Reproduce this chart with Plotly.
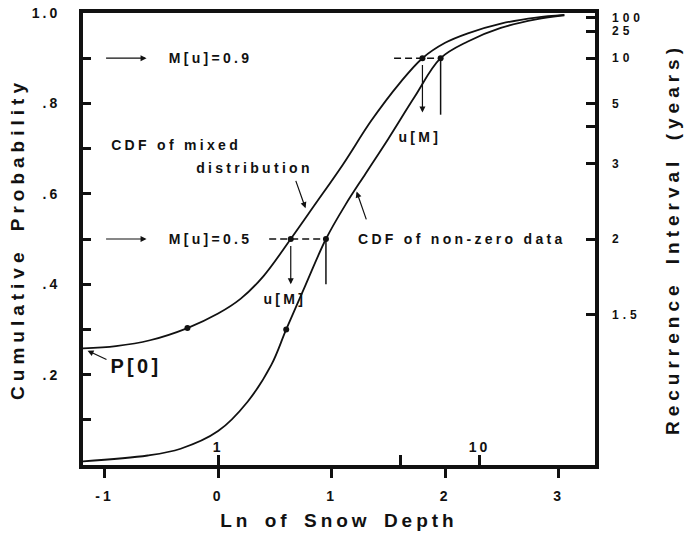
import numpy as np
import plotly.graph_objects as go

# ---- data ----
ln_mixed = [-1.19, -0.90, -0.60, -0.27, 0.00, 0.20, 0.40, 0.64, 0.85, 1.10, 1.35, 1.60, 1.80, 2.00, 2.20, 2.50, 2.80, 3.05]
p_mixed = [0.258, 0.263, 0.276, 0.303, 0.335, 0.368, 0.418, 0.500, 0.575, 0.665, 0.762, 0.845, 0.900, 0.934, 0.955, 0.977, 0.990, 0.996]

ln_nonzero = [-1.19, -0.62, -0.33, 0.0, 0.26, 0.47, 0.60, 0.77, 0.95, 1.12, 1.30, 1.50, 1.73, 1.96, 2.20, 2.49, 2.80, 3.05]
p_nonzero = [0.008, 0.021, 0.036, 0.075, 0.140, 0.222, 0.300, 0.398, 0.500, 0.575, 0.645, 0.722, 0.814, 0.900, 0.937, 0.967, 0.986, 0.995]

dot_ln_mixed = [-0.27, 0.64, 1.80]
dot_p_mixed = [0.303, 0.500, 0.900]
dot_ln_nonzero = [0.60, 0.95, 1.96]
dot_p_nonzero = [0.300, 0.500, 0.900]

m_levels = [0.5, 0.9]
m_labels = ["M[u]=0.5", "M[u]=0.9"]
u_mixed = [0.64, 1.80]
u_nonzero = [0.95, 1.96]
dash_start = [0.45, 1.55]
drop_to_mixed = [0.40, 0.78]
drop_to_nonzero = [0.40, 0.775]
p_zero = 0.258

x_ticks = [-1, 0, 1, 2, 3]
x_ticktext = ["-1", "0", "1", "2", "3"]
y_ticks = [0.1, 0.2, 0.3, 0.4, 0.5, 0.6, 0.7, 0.8, 0.9, 1.0]
y_ticktext = ["", ".2", "", ".4", "", ".6", "", ".8", "", "1.0"]
recurrence = [1.5, 2, 3, 4, 5, 10, 25, 100]
recurrence_text = ["1.5", "2", "3", "", "5", "10", "25", "100"]
depth_ticks = [1, 5, 10]
depth_text = ["1", "", "10"]

FONT = "Liberation Sans"
BLACK = "#111111"

fig = go.Figure()

fig.add_trace(go.Scatter(x=ln_mixed, y=p_mixed, mode="lines",
                         line=dict(color=BLACK, width=1.8, shape="spline", smoothing=1.0),
                         showlegend=False, hoverinfo="skip"))
fig.add_trace(go.Scatter(x=ln_nonzero, y=p_nonzero, mode="lines",
                         line=dict(color=BLACK, width=1.8, shape="spline", smoothing=1.0),
                         showlegend=False, hoverinfo="skip"))

# dashed guide lines at the M[u] levels
for lvl, x0, x1 in zip(m_levels, dash_start, u_nonzero):
    fig.add_trace(go.Scatter(x=[x0, x1], y=[lvl, lvl], mode="lines",
                             line=dict(color=BLACK, width=1.5, dash="7px,4px"),
                             showlegend=False, hoverinfo="skip"))

# vertical lines from non-zero dots
for u, lvl, y1 in zip(u_nonzero, m_levels, drop_to_nonzero):
    fig.add_trace(go.Scatter(x=[u, u], y=[lvl, y1], mode="lines",
                             line=dict(color=BLACK, width=1.5),
                             showlegend=False, hoverinfo="skip"))

# dots
fig.add_trace(go.Scatter(x=dot_ln_mixed + dot_ln_nonzero, y=dot_p_mixed + dot_p_nonzero,
                         mode="markers", marker=dict(color=BLACK, size=6),
                         showlegend=False, hoverinfo="skip"))

# secondary axes: recurrence interval (right) and depth (inner bottom)
fig.add_trace(go.Scatter(x=[None], y=[None], yaxis="y2", showlegend=False, hoverinfo="skip"))
fig.add_trace(go.Scatter(x=[None], y=[None], xaxis="x2", showlegend=False, hoverinfo="skip"))

anns = []
tfont = dict(family=FONT, size=14, color=BLACK, weight="bold")
ARROW = dict(showarrow=True, arrowhead=2, arrowsize=1.0, arrowwidth=1.2, arrowcolor=BLACK,
             xref="x", yref="y", axref="x", ayref="y", text="")

# arrows dropping from mixed dots (u[M])
for u, lvl, y1 in zip(u_mixed, m_levels, drop_to_mixed):
    anns.append(dict(x=u, y=y1, ax=u, ay=lvl - 0.012, **ARROW))

# M[u] level arrows and labels
for lvl, lab in zip(m_levels, m_labels):
    anns.append(dict(x=-0.63, y=lvl, ax=-1.0, ay=lvl, **ARROW))
    anns.append(dict(x=-0.07, y=lvl, xref="x", yref="y", text=lab, showarrow=False,
                     xanchor="center", yanchor="middle", font=tfont))

# u[M] labels
anns.append(dict(x=1.78, y=0.725, xref="x", yref="y", text="u[M]", showarrow=False, font=tfont))
anns.append(dict(x=0.59, y=0.367, xref="x", yref="y", text="u[M]", showarrow=False, font=tfont))

# curve descriptions
anns.append(dict(x=-0.37, y=0.707, xref="x", yref="y", text="CDF of mixed", showarrow=False, font=tfont))
anns.append(dict(x=0.32, y=0.658, xref="x", yref="y", text="distribution", showarrow=False, font=tfont))
anns.append(dict(x=0.77, y=0.568, ax=0.68, ay=0.632, **ARROW))
anns.append(dict(x=2.15, y=0.50, xref="x", yref="y", text="CDF of non-zero data", showarrow=False, font=tfont))
anns.append(dict(x=1.22, y=0.605, ax=1.31, ay=0.54, **ARROW))

# P[0]
anns.append(dict(x=-0.72, y=0.218, xref="x", yref="y", text="P[0]", showarrow=False,
                 font=dict(family=FONT, size=20, color=BLACK, weight="bold")))
anns.append(dict(x=-1.15, y=p_zero - 0.005, ax=-0.97, ay=0.232, **ARROW))

axis_common = dict(showgrid=False, zeroline=False, color=BLACK, automargin=False)

fig.update_layout(
    width=689, height=537,
    margin=dict(l=83, r=94, t=13, b=72),
    paper_bgcolor="white", plot_bgcolor="white",
    showlegend=False,
    annotations=anns,
    xaxis=dict(range=[-1.19, 3.32], tickvals=x_ticks, ticktext=x_ticktext,
               ticks="outside", ticklen=9, tickwidth=3, tickcolor=BLACK,
               showline=True, linewidth=4, linecolor=BLACK, mirror=True,
               ticklabelstandoff=6,
               tickfont=dict(family=FONT, size=14, color=BLACK, weight="bold"),
               title=dict(text="Ln of Snow Depth", standoff=12,
                          font=dict(family=FONT, size=19, color=BLACK, weight="bold")),
               **axis_common),
    xaxis2=dict(range=[-1.19, 3.32], overlaying="x", anchor="y", side="bottom",
                tickvals=list(np.log(depth_ticks)), ticktext=depth_text,
                ticks="inside", ticklen=10, tickwidth=3, tickcolor=BLACK,
                ticklabelposition="inside", showline=False,
                tickfont=dict(family=FONT, size=14, color=BLACK, weight="bold"),
                **axis_common),
    yaxis=dict(range=[0, 1.0], tickvals=y_ticks, ticktext=y_ticktext,
               ticks="inside", ticklen=8, tickwidth=3, tickcolor=BLACK,
               showline=True, linewidth=4, linecolor=BLACK, mirror=True,
               ticklabelstandoff=16,
               tickfont=dict(family=FONT, size=14, color=BLACK, weight="bold"),
               title=dict(text="Cumulative Probability", standoff=12,
                          font=dict(family=FONT, size=19, color=BLACK, weight="bold")),
               **axis_common),
    yaxis2=dict(range=[0, 1.0], overlaying="y", side="right", anchor="x",
                tickvals=[1 - 1 / t for t in recurrence], ticktext=recurrence_text,
                ticks="inside", ticklen=9, tickwidth=3, tickcolor=BLACK,
                showline=False, ticklabelstandoff=16,
                tickfont=dict(family=FONT, size=12, color=BLACK, weight="bold"),
                title=dict(text="Recurrence Interval (years)", standoff=34,
                           font=dict(family=FONT, size=19, color=BLACK, weight="bold")),
                **axis_common),
)

post = """
(function(){
  document.body.style.margin = '0';
  var gd = document.getElementById('{plot_id}');
  function sp(){
    gd.querySelectorAll('.annotation-text').forEach(function(t){t.setAttribute('letter-spacing','3.3');});
    gd.querySelectorAll('.xtick text, .ytick text, .x2tick text').forEach(function(t){t.setAttribute('letter-spacing','3');});
    gd.querySelectorAll('.y2tick text').forEach(function(t){t.setAttribute('letter-spacing','4');});
    gd.querySelectorAll('.g-xtitle text').forEach(function(t){t.setAttribute('letter-spacing','4'); t.setAttribute('word-spacing','4');});
    gd.querySelectorAll('.g-ytitle text, .g-y2title text').forEach(function(t){t.setAttribute('letter-spacing','5'); t.setAttribute('word-spacing','6');});
  }
  sp();
  if (gd.on) { gd.on('plotly_afterplot', sp); }
})();
"""

fig.write_html("out.html", post_script=post, config={"displayModeBar": False})
